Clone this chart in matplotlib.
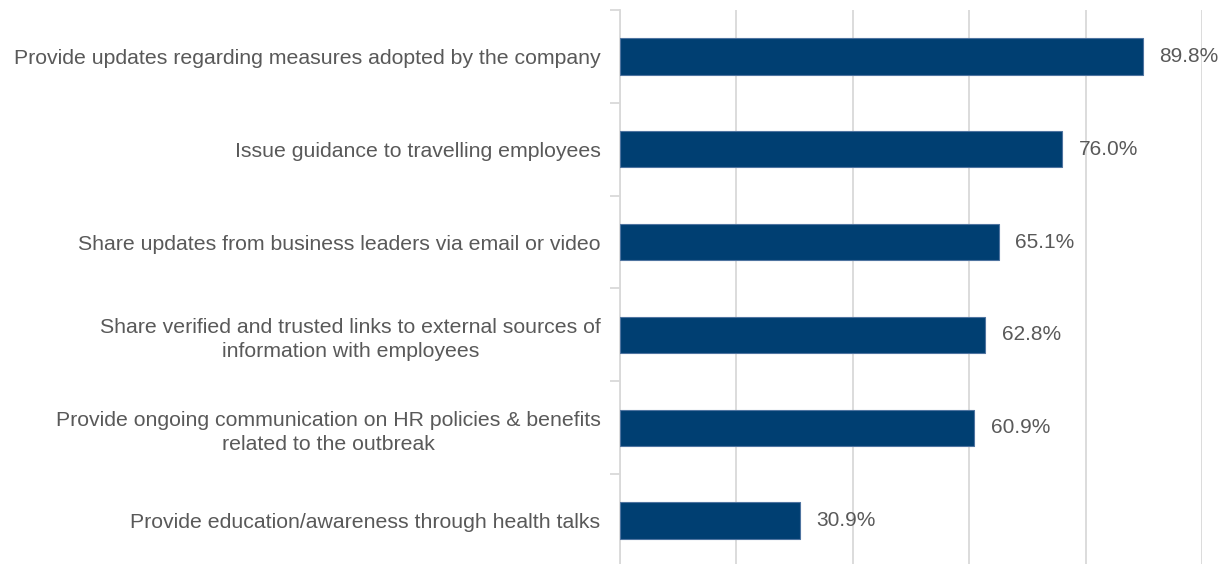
import numpy as np
import matplotlib.pyplot as plt

plt.rcParams["font.family"] = ["Liberation Sans", "DejaVu Sans"]

# Share of companies taking each communication action (%)
ACTIONS = [
    "Provide updates regarding measures adopted by the company",
    "Issue guidance to travelling employees",
    "Share updates from business leaders via email or video",
    "Share verified and trusted links to external sources of\ninformation with employees",
    "Provide ongoing communication on HR policies & benefits\nrelated to the outbreak",
    "Provide education/awareness through health talks",
]
SHARES = [89.8, 76.0, 65.1, 62.8, 60.9, 30.9]

BAR_COLOR = "#003F72"
EDGE_COLOR = "#4F74A0"
GRID_COLOR = "#D9D9D9"
TEXT_COLOR = "#595959"


def main():
    fig = plt.figure(figsize=(12.22, 5.64), dpi=100)
    ax = fig.add_axes([0.5074, -0.0053, 0.4762, 0.9876])

    y = np.arange(len(ACTIONS))
    ax.barh(y, SHARES, height=0.39, color=BAR_COLOR,
            edgecolor=EDGE_COLOR, linewidth=0.8, zorder=3)

    # value labels just past the bar ends
    for yi, val in zip(y, SHARES):
        ax.text(val + 2.8, yi, f"{val:.1f}%", va="center", ha="left",
                fontsize=15, color=TEXT_COLOR, zorder=4)

    ax.set_xlim(0, 100)
    ax.set_ylim(len(ACTIONS) - 0.5, -0.5)
    ax.set_xticks(np.arange(0, 101, 20))
    ax.xaxis.grid(True, color=GRID_COLOR, linewidth=1.3)
    ax.tick_params(axis="x", length=0, labelbottom=False)

    # category labels centred on bars, tick marks between categories
    ax.set_yticks(y)
    ax.set_yticklabels(ACTIONS, fontsize=15.3, color=TEXT_COLOR,
                       multialignment="center", linespacing=1.33)
    ax.tick_params(axis="y", which="major", length=0, pad=14)
    ax.set_yticks(np.arange(-0.5, len(ACTIONS) + 0.5, 1), minor=True)
    ax.tick_params(axis="y", which="minor", length=7, width=1.3,
                   color=GRID_COLOR)

    for side in ["top", "right", "bottom"]:
        ax.spines[side].set_visible(False)
    ax.spines["left"].set_color(GRID_COLOR)
    ax.spines["left"].set_linewidth(1.3)

    fig.savefig("out.png", dpi=100)
    plt.close(fig)


if __name__ == "__main__":
    main()
